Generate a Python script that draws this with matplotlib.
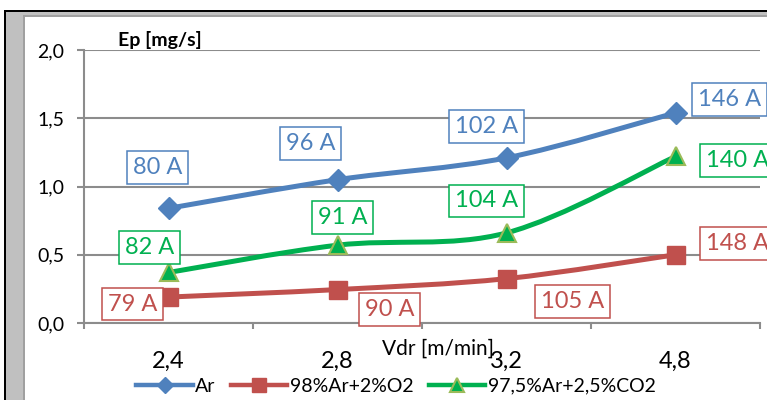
import numpy as np
import matplotlib
matplotlib.use("Agg")
import matplotlib.pyplot as plt
from matplotlib.path import Path
from matplotlib.patches import PathPatch, Rectangle
from matplotlib.lines import Line2D
from matplotlib.ticker import FuncFormatter, FixedLocator

plt.rcParams['font.family'] = ['Lato', 'DejaVu Sans']

categories = ['2,4', '2,8', '3,2', '4,8']
ar = [0.84, 1.05, 1.21, 1.54]
ar_o2 = [0.19, 0.245, 0.325, 0.50]
ar_co2 = [0.37, 0.57, 0.66, 1.22]
ar_labels = ['80 A', '96 A', '102 A', '146 A']
ar_o2_labels = ['79 A', '90 A', '105 A', '148 A']
ar_co2_labels = ['82 A', '91 A', '104 A', '140 A']
series_names = ['Ar', '98%Ar+2%O2', '97,5%Ar+2,5%CO2']

BLUE = '#4F81BD'
RED = '#C0504D'
GREEN = '#00B050'
GRID = '#8C8C8C'

W, H = 767, 400


def smooth_path(xs, ys):
    # excel-like smoothed line: cubic bezier with catmull-rom tangents
    pts = np.column_stack([xs, ys]).astype(float)
    n = len(pts)
    verts = [pts[0]]
    codes = [Path.MOVETO]
    for i in range(n - 1):
        p_prev = pts[max(i - 1, 0)]
        p0, p1 = pts[i], pts[i + 1]
        p_next = pts[min(i + 2, n - 1)]
        c1 = p0 + (p1 - p_prev) / 6
        c2 = p1 - (p_next - p0) / 6
        verts += [c1, c2, p1]
        codes += [Path.CURVE4] * 3
    return Path(verts, codes)


fig = plt.figure(figsize=(W / 100, H / 100), dpi=100)

# screenshot frame (black + grey border at top and left)
fig.add_artist(Rectangle((4 / W, 0), 2 / W, 1 - 10 / H, transform=fig.transFigure, color='black', lw=0))
fig.add_artist(Rectangle((4 / W, 1 - 12 / H), 1, 2 / H, transform=fig.transFigure, color='black', lw=0))
fig.add_artist(Rectangle((6 / W, 0), 17 / W, 1 - 12 / H, transform=fig.transFigure, color='#C0C0C0', lw=0))
fig.add_artist(Rectangle((6 / W, 1 - 16 / H), 1, 4 / H, transform=fig.transFigure, color='#C0C0C0', lw=0))
fig.add_artist(Rectangle((23 / W, 0), 2 / W, 1 - 16 / H, transform=fig.transFigure, color='#A0A0A0', lw=0))
fig.add_artist(Rectangle((23 / W, 1 - 17 / H), 1, 1.5 / H, transform=fig.transFigure, color='#A0A0A0', lw=0))

ax = fig.add_axes([84 / W, 77 / H, (760 - 84) / W, (323 - 50) / H])
x = np.arange(len(categories))

styles = [
    (ar, ar_labels, BLUE, dict(marker='D', markersize=11, markerfacecolor=BLUE, markeredgecolor=BLUE),
     [(-11, 41), (-27, 36), (-20, 31), (54, 13)]),
    (ar_o2, ar_o2_labels, RED, dict(marker='s', markersize=13, markerfacecolor=RED, markeredgecolor=RED),
     [(-36, -7), (52, -20), (66, -23), (62, 11)]),
    (ar_co2, ar_co2_labels, GREEN, dict(marker='^', markersize=13, markerfacecolor=GREEN,
                                        markeredgecolor='#9BBB59', markeredgewidth=1.5),
     [(-19, 25), (5, 28), (-20, 32), (62, -4)]),
]

handles = []
for ys, labels, color, mk, offsets in styles:
    ax.add_patch(PathPatch(smooth_path(x, ys), fill=False, edgecolor=color, lw=3.6,
                           capstyle='round', joinstyle='round', zorder=3))
    ax.plot(x, ys, linestyle='none', zorder=4, **mk)
    for xi, yi, lab, off in zip(x, ys, labels, offsets):
        ax.annotate(lab, (xi, yi), xytext=off, textcoords='offset pixels',
                    ha='center', va='center', fontsize=17, color=color, zorder=6,
                    annotation_clip=False,
                    bbox=dict(boxstyle='square,pad=0.25', fc='white', ec=color, lw=1.1))
    h_mk = dict(mk)
    h_mk['markersize'] = mk['markersize'] * 0.75
    handles.append(Line2D([], [], color=color, lw=3.2, **h_mk))

ax.set_xlim(-0.5, len(categories) - 0.5)
ax.set_ylim(0, 2.0)
ax.set_yticks(np.arange(0, 2.01, 0.5))
ax.yaxis.set_major_formatter(FuncFormatter(lambda v, p: f'{v:.1f}'.replace('.', ',')))
ax.set_xticks(x)
ax.set_xticklabels(categories)
ax.xaxis.set_minor_locator(FixedLocator(np.arange(-0.5, len(categories), 1.0)))

ax.grid(axis='y', color=GRID, lw=1.5, zorder=0)
ax.set_axisbelow(True)
for s in ['top', 'right']:
    ax.spines[s].set_visible(False)
for s in ['left', 'bottom']:
    ax.spines[s].set_color(GRID)
    ax.spines[s].set_linewidth(1.5)

ax.tick_params(axis='y', length=5, width=1.5, color=GRID, pad=9, labelsize=14)
ax.tick_params(axis='x', which='major', length=0, pad=20, labelsize=17)
ax.tick_params(axis='x', which='minor', length=4.5, width=1.5, color=GRID)

fig.text(118 / W, 1 - 40 / H, 'Ep [mg/s]', fontsize=14, fontweight='bold', ha='left', va='center')
fig.text(438 / W, 1 - 349 / H, 'Vdr [m/min]', fontsize=15, ha='center', va='center')

fig.legend(handles, series_names, loc='center', bbox_to_anchor=(396 / W, 14 / H), ncol=3,
           frameon=False, fontsize=14, handlelength=2.9, handletextpad=0.12, columnspacing=0.8,
           borderpad=0, borderaxespad=0)

fig.savefig('out.png', dpi=100, facecolor='white')
